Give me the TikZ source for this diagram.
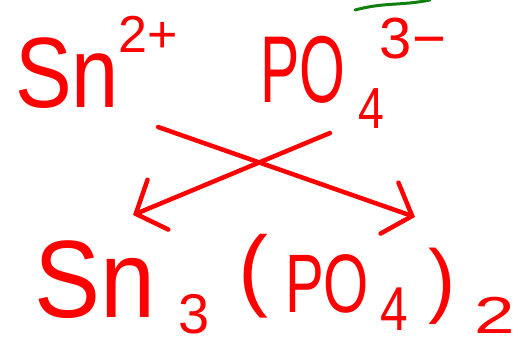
\documentclass[tikz,border=0pt]{standalone}
\usepackage{fontspec}
\usepackage{graphicx}
\setmainfont{Liberation Sans}
\usetikzlibrary{arrows.meta}
\definecolor{inkred}{RGB}{255,0,0}
\definecolor{inkgreen}{RGB}{16,128,16}
\newcommand{\fsz}[1]{\fontsize{#1}{#1}\selectfont}

\begin{document}
\begin{tikzpicture}[x=1pt, y=-1pt,
  ink/.style={text=inkred, inner sep=0pt},
  stroke/.style={draw=inkred, line width=4.5pt, line cap=round},
  arrow/.style={stroke, -{Straight Barb[length=24pt, width=54pt, line cap=round]}}
]
\useasboundingbox (0,0) rectangle (525,348);
% reactants
\node[ink, font=\fsz{100}] (tin) at (67,73) {\scalebox{0.85}[1]{Sn}};
\node[ink, font=\fsz{52}] (tincharge) at (148,34) {2+};
\node[ink, font=\fsz{95}] (phos) at (303,70) {\scalebox{0.62}[1]{PO}};
\node[ink, font=\fsz{58}] (phossub) at (371,109) {\scalebox{0.8}[1]{4}};
\node[ink, font=\fsz{58}] (phoscharge) at (413,39) {3−};
% product
\node[ink, font=\fsz{110}] (prodtin) at (95,280) {\scalebox{0.9}[1]{Sn}};
\node[ink, font=\fsz{56}] (prodthree) at (194,314) {3};
\node[ink, font=\fsz{90}] (lparen) at (253,276) {(};
\node[ink, font=\fsz{83}] (prodphos) at (327,284) {\scalebox{0.7}[1]{PO}};
\node[ink, font=\fsz{62}] (prodfour) at (394,309) {\scalebox{0.8}[1]{4}};
\node[ink, font=\fsz{82}] (rparen) at (442,286) {)};
\node[ink, font=\fsz{52}] (prodtwo) at (495,315) {\scalebox{1.4}[1]{2}};
% crossing arrows
\coordinate (tinstart) at (158,127);
\coordinate (tinend) at (415,217);
\coordinate (phosstart) at (330,133);
\coordinate (phosend) at (133,215);
\draw[arrow] (tinstart) -- (tinend);
\draw[arrow] (phosstart) -- (phosend);
% green mark
\draw[draw=inkgreen, line width=3pt, line cap=round] (355,10) .. controls (385,2) and (400,6) .. (430,0);
\end{tikzpicture}
\end{document}
